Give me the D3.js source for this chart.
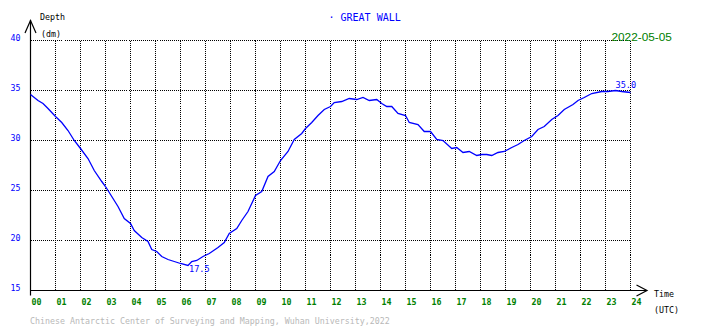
<!DOCTYPE html>
<html>
<head>
<meta charset="utf-8">
<script src="https://cdn.jsdelivr.net/npm/d3@7"></script>
<style>
  html, body { margin: 0; padding: 0; background: #ffffff; }
  svg { display: block; }
  text { font-family: "DejaVu Sans Mono", monospace; }
</style>
</head>
<body>
<svg id="chart" width="710" height="328"></svg>
<script>
// ---- data ----
const hours = [0.0,0.3,0.5,0.7,1.0,1.25,1.5,1.75,2.0,2.3,2.55,2.85,3.0,3.25,3.5,3.75,4.0,4.15,4.45,4.7,4.85,5.05,5.25,5.5,5.75,6.0,6.3,6.45,6.65,6.9,7.15,7.5,7.75,7.95,8.25,8.45,8.7,9.0,9.25,9.5,9.75,10.0,10.3,10.55,10.85,11.0,11.25,11.5,11.75,12.0,12.15,12.45,12.75,13.05,13.3,13.55,13.85,14.05,14.25,14.45,14.7,15.0,15.15,15.5,15.75,16.0,16.25,16.5,16.85,17.05,17.3,17.55,17.85,18.05,18.25,18.45,18.7,18.95,19.25,19.5,19.75,20.05,20.3,20.55,20.85,21.1,21.35,21.7,21.9,22.15,22.45,22.85,23.1,23.4,23.65,24.0];
const depth = [34.6,34.0,33.7,33.2,32.4,31.8,31.0,30.0,29.2,28.2,27.0,25.9,25.4,24.4,23.4,22.2,21.7,21.0,20.3,19.9,19.1,18.9,18.4,18.1,17.9,17.7,17.5,17.9,18.0,18.4,18.7,19.3,19.8,20.7,21.2,22.0,22.9,24.5,24.9,26.4,26.9,28.0,28.9,30.1,30.7,31.2,31.8,32.5,33.1,33.4,33.8,33.9,34.2,34.1,34.3,34.0,34.1,33.7,33.4,33.4,32.7,32.5,31.8,31.6,30.9,30.9,30.1,30.0,29.2,29.3,28.8,28.9,28.5,28.6,28.6,28.5,28.8,28.9,29.3,29.6,30.0,30.4,31.1,31.4,32.1,32.5,33.1,33.6,34.0,34.3,34.7,34.9,34.9,35.0,34.9,34.8];
const hourTicks = d3.range(0, 25);
const depthTicks = [15, 20, 25, 30, 35, 40];
const stationName = "GREAT WALL";
const dateLabel = "2022-05-05";
const footerText = "Chinese Antarctic Center of Surveying and Mapping, Wuhan University,2022";

// ---- chart ----
const svg = d3.select("#chart");
const x = d3.scaleLinear().domain([0, 24]).range([30.5, 630.5]);
const y = d3.scaleLinear().domain([15, 40]).range([290.5, 40.5]);

// grid
const grid = svg.append("g").attr("stroke", "#000").attr("stroke-width", 1)
  .attr("stroke-dasharray", "1,1").attr("shape-rendering", "crispEdges");
grid.selectAll("line.v").data(hourTicks.filter(d => d > 0)).join("line")
  .attr("x1", d => x(d)).attr("x2", d => x(d))
  .attr("y1", y(40)).attr("y2", y(15));
grid.selectAll("line.h").data(depthTicks.filter(d => d > 15)).join("line")
  .attr("x1", x(0)).attr("x2", x(24))
  .attr("y1", d => y(d)).attr("y2", d => y(d));

// x axis labels
const xAxis = d3.axisBottom(x).tickValues(hourTicks).tickSize(0).tickPadding(0)
  .tickFormat(d => String(d).padStart(2, "0"));
const gx = svg.append("g").attr("transform", "translate(0,305)").call(xAxis);
gx.select(".domain").remove();
gx.selectAll("text").attr("text-anchor", "start").attr("dx", 0.5).attr("y", 0).attr("dy", 0)
  .attr("fill", "#008000").style("font-size", "8.3px").style("font-weight", "bold")
  .style("font-family", "'DejaVu Sans Mono', monospace");

// y axis labels
const yAxis = d3.axisLeft(y).tickValues(depthTicks).tickSize(0).tickPadding(0);
const gy = svg.append("g").attr("transform", "translate(20.5,0)").call(yAxis);
gy.select(".domain").remove();
gy.selectAll("text").attr("text-anchor", "end").attr("x", 0).attr("dy", -0.5)
  .attr("fill", "#0000ff").style("font-size", "8.3px")
  .style("font-family", "'DejaVu Sans Mono', monospace");

// axes lines + arrows
const ax = svg.append("g").attr("stroke", "#000").attr("fill", "none").attr("stroke-width", 1.2);
ax.append("line").attr("x1", x(0)).attr("x2", x(0)).attr("y1", 20).attr("y2", 295.5);
ax.append("path").attr("d", `M${x(0) - 5.5},33 L${x(0)},20.5 L${x(0) + 5.5},33`);
ax.append("line").attr("x1", x(0)).attr("x2", 646.5).attr("y1", y(15)).attr("y2", y(15));
ax.append("path").attr("d", `M636.5,285 L647,${y(15)} L636.5,296`);

// data line
const line = d3.line().x((d, i) => x(hours[i])).y(d => y(d));
svg.append("path").datum(depth).attr("d", line)
  .attr("fill", "none").attr("stroke", "#0000ff").attr("stroke-width", 1.3);

// max/min labels
const iMax = d3.maxIndex(depth), iMin = d3.minIndex(depth);
svg.append("text").attr("x", x(hours[iMax])).attr("y", y(depth[iMax]) - 2.5)
  .attr("fill", "#0000ff").style("font-size", "8.6px").text(depth[iMax].toFixed(1));
svg.append("text").attr("x", x(hours[iMin]) + 1).attr("y", y(depth[iMin]) + 6)
  .attr("fill", "#0000ff").style("font-size", "8.6px").text(depth[iMin].toFixed(1));

// axis titles
svg.append("text").attr("x", 40).attr("y", 19.5).style("font-size", "8.3px").text("Depth");
svg.append("text").attr("x", 41).attr("y", 36.5).style("font-size", "8.3px").text("(dm)");
svg.append("text").attr("x", 654).attr("y", 297).style("font-size", "8.3px").text("Time");
svg.append("text").attr("x", 654).attr("y", 312.5).style("font-size", "8.3px").text("(UTC)");

// title and date
svg.append("text").attr("x", 328.5).attr("y", 21).attr("fill", "#0000ff")
  .style("font-size", "10px").text("\u00b7 " + stationName);
svg.append("text").attr("x", 611.5).attr("y", 41).attr("fill", "#008000")
  .style("font-family", "'Liberation Sans', sans-serif").style("font-size", "11.8px").text(dateLabel);

// footer
svg.append("text").attr("x", 30).attr("y", 323.5).attr("fill", "#b8b8b8")
  .style("font-size", "8.3px").text(footerText);
</script>
</body>
</html>
